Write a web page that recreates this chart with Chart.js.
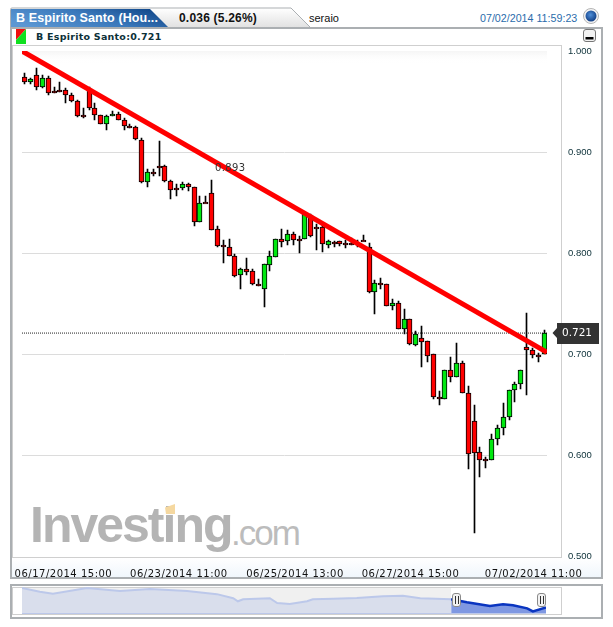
<!DOCTYPE html>
<html>
<head>
<meta charset="utf-8">
<title>B Espirito Santo</title>
<script src="https://cdn.jsdelivr.net/npm/chart.js@4/dist/chart.umd.min.js"></script>
<style>
html, body { margin: 0; padding: 0; background: #fff; overflow: hidden; }
#page { position: relative; width: 613px; height: 627px; font-family: "Liberation Sans", sans-serif; }
#page > * { position: absolute; }
.panel { border: 2px solid #abafb2; box-sizing: border-box; background: #fff; }
.frame { border: 1px solid #cfcfcf; box-sizing: border-box; }
.txt { white-space: nowrap; line-height: 1; }
.grip { width: 9px; height: 14px; border: 1px solid #8a8a8a; border-radius: 3px; background: #f2f2f2; box-sizing: border-box; }
.grip:after { content: ""; position: absolute; left: 2px; top: 2px; width: 1px; height: 8px; border-left: 1px solid #333; border-right: 1px solid #333; padding-left: 1px; }
</style>
</head>
<body>
<div id="page">
  <div class="panel" style="left:10px;top:27px;width:593px;height:552px"></div>
  <div style="left:12px;top:558px;width:589px;height:19px;background:linear-gradient(#fff,#f0f6fc)"></div>
  <div class="frame" style="left:12px;top:45px;width:550px;height:513px;background:#fff"></div>

  <svg style="left:0;top:0" width="613" height="46">
    <defs>
      <linearGradient id="tabBlue" x1="0" y1="0.7" x2="1" y2="0.3"><stop offset="0" stop-color="#5b97d3"/><stop offset="0.55" stop-color="#3a78bb"/><stop offset="1" stop-color="#134a8c"/></linearGradient>
      <linearGradient id="tabGray" x1="0" y1="0" x2="0" y2="1"><stop offset="0" stop-color="#ffffff"/><stop offset="1" stop-color="#e2e2e2"/></linearGradient>
      <radialGradient id="ball" cx="0.45" cy="0.4" r="0.6"><stop offset="0" stop-color="#4f8fd8"/><stop offset="1" stop-color="#123f86"/></radialGradient>
    </defs>
    <path d="M10.5 27 V9.5 Q10.5 8 12 8 H291 L310 27" fill="url(#tabGray)" stroke="#abafb2" stroke-width="1"/>
    <path d="M11 27 V9 H150 L168 27 Z" fill="url(#tabBlue)"/>
    <circle cx="591" cy="16" r="7.5" fill="#f4f4f4" stroke="#b5b5b5"/>
    <circle cx="591" cy="16" r="5.5" fill="url(#ball)"/>
    <rect x="583.5" y="29.5" width="12" height="12" rx="2.5" fill="#f2f2f2" stroke="#777"/>
    <rect x="585.5" y="37" width="8" height="2.5" fill="#000"/>
    <path d="M16 29 H26 L16 40 Z" fill="#f01010"/>
    <path d="M26 29 V44 H16 V40 Z" fill="#10e020"/>
  </svg>

  <div class="txt" style="left:16px;top:11px;font:bold 12.5px 'Liberation Sans';letter-spacing:.1px;color:#fff">B Espirito Santo (Hou...</div>
  <div class="txt" style="left:179px;top:11px;font:bold 12px 'Liberation Sans';letter-spacing:.2px;color:#111">0.036 (5.26%)</div>
  <div class="txt" style="left:309px;top:12px;font:11px 'Liberation Sans';color:#111">seraio</div>
  <div class="txt" style="left:480px;top:12px;font:10.7px 'Liberation Sans';color:#2a6cab">07/02/2014 11:59:23</div>
  <div class="txt" style="left:36px;top:31px;font:bold 9.5px 'DejaVu Sans';letter-spacing:.25px;color:#0c3038">B Espirito Santo:0.721</div>

  <div class="txt" style="left:30px;top:496px;font:bold 50px 'Liberation Sans';letter-spacing:-2px;color:#b4b4b4">Investing</div>
  <div style="left:165px;top:504px;width:10px;height:10px;background:#f5d8a0;clip-path:polygon(0 35%,100% 0,100% 100%,10% 100%)"></div>
  <div class="txt" style="left:231px;top:513px;font:35px 'Liberation Sans';letter-spacing:-2px;color:#bcbcbc">.com</div>

  <canvas id="grafico" width="613" height="627" style="left:0;top:0"></canvas>

  <div class="panel" style="left:10px;top:584px;width:593px;height:35px"></div>
  <div class="frame" style="left:12px;top:587px;width:550px;height:28px"></div>
  <div style="left:22px;top:588px;width:429px;height:26px;background:#f0f0f0"></div>
  <canvas id="navegador" width="613" height="27" style="left:0;top:587px"></canvas>
  <div style="left:22px;top:613px;width:524px;height:1px;background:#bcc8ea"></div>
  <div class="grip" style="left:452px;top:593px"></div>
  <div class="grip" style="left:537px;top:593px"></div>
</div>

<script>
// Datos de las velas, en orden de izquierda a derecha
const highs = [
  .978, .973, .983, .976, .975, .964, .969, .963, .958, .952,
  .944, .964, .949, .937, .937, .941, .940, .934, .928, .926,
  .914, .883, .883, .911, .887, .872, .868, .870, .869, .865,
  .857, .857, .872, .827, .813, .814, .799, .785, .795, .784,
  .774, .789, .802, .814, .824, .823, .821, .817, .839, .839,
  .829, .828, .813, .812, .812, .813, .815, .813, .818, .810,
  .773, .775, .770, .755, .753, .745, .735, .723, .728, .713,
  .700, .664, .684, .697, .711, .693, .669, .650, .608, .598,
  .621, .630, .652, .665, .673, .684, .741, .706, .701, .724
];
const opens = [
  .974, .969, .976, .964, .973, .960, .961, .961, .956, .951,
  .937, .961, .944, .937, .928, .936, .938, .932, .926, .925,
  .912, .870, .880, .886, .886, .871, .864, .864, .868, .865,
  .831, .851, .860, .824, .808, .806, .797, .778, .784, .782,
  .770, .765, .788, .796, .814, .812, .819, .814, .814, .838,
  .826, .826, .808, .811, .812, .810, .810, .810, .813, .806,
  .762, .771, .770, .748, .751, .725, .735, .709, .716, .713,
  .700, .658, .656, .684, .678, .691, .662, .634, .603, .596,
  .595, .616, .627, .638, .665, .671, .707, .704, .699, .700
];
const closes = [
  .969, .972, .964, .973, .958, .959, .960, .956, .951, .936,
  .936, .944, .937, .928, .936, .938, .932, .926, .925, .913,
  .870, .880, .879, .885, .871, .863, .863, .868, .865, .831,
  .850, .850, .823, .807, .806, .797, .777, .784, .781, .770,
  .769, .789, .797, .814, .811, .819, .813, .813, .839, .817,
  .825, .809, .812, .810, .809, .809, .809, .809, .812, .762,
  .771, .770, .748, .751, .725, .735, .710, .720, .712, .698,
  .658, .656, .684, .678, .691, .662, .601, .602, .595, .595,
  .616, .627, .638, .665, .671, .684, .704, .699, .698, .721
];
const lows = [
  .967, .967, .961, .963, .956, .958, .959, .949, .950, .935,
  .934, .942, .932, .928, .922, .936, .932, .922, .924, .912,
  .869, .865, .876, .876, .870, .854, .857, .863, .862, .827,
  .831, .850, .823, .806, .790, .797, .776, .765, .778, .769,
  .768, .747, .782, .796, .806, .808, .808, .800, .814, .816,
  .803, .801, .805, .806, .807, .805, .808, .806, .812, .761,
  .740, .765, .748, .744, .725, .720, .709, .708, .687, .692,
  .656, .650, .656, .673, .678, .662, .587, .523, .579, .588,
  .595, .610, .620, .635, .653, .666, .660, .696, .692, .700
];

const ultimoPrecio = 0.721;
const precioMarcado = 0.893;
// Linea de tendencia: vela inicial/final y su precio
const tendenciaVelas = [-0.5, 89.5];
const tendenciaPrecios = [1.0, 0.702];

// Eje X
const fechas = ['06/17/2014 15:00', '06/23/2014 11:00', '06/25/2014 13:00', '06/27/2014 15:00', '07/02/2014 11:00'];
const fechasVela = [6.6, 26.4, 46.3, 66.1, 87.2];

// Navegador inferior: posicion en % del ancho y nivel del precio
const navPos = [0, 3.4, 5.9, 12.4, 18.7, 24.4, 31.5, 37.2, 40.3, 41.2, 42.2, 47.3, 48.7, 51.1, 54.4, 55.5, 59.4, 63.9, 68.9, 72.7, 76, 81.9, 84.9, 89.3, 91.8, 93.7, 96.4, 97.5, 100];
const navVal = [25.5, 21.8, 19.8, 25.5, 22.5, 24.5, 22.5, 19.5, 15.5, 12.5, 14.5, 15.5, 10.8, 9.8, 12.5, 14.5, 15, 15.8, 17.5, 17.8, 15.5, 14.5, 11.5, 7.8, 9.5, 8.5, 5.5, 2.5, 6.5];
const navInicio = 81.9;

const rojo = '#ff0000';
const verde = '#00e810';

const velas = highs.map((h, i) => i);

const extras = {
  id: 'extras',
  // Ajusta las velas al pixel para que salgan nitidas; el cuerpo nunca baja de 2px
  afterDatasetsUpdate(chart) {
    [1, 2].forEach(n => {
      chart.getDatasetMeta(n).data.forEach(bar => {
        bar.x = Math.floor(bar.x) + 0.5;
        let top = Math.round(Math.min(bar.y, bar.base));
        let bottom = Math.round(Math.max(bar.y, bar.base));
        if (bottom - top < 2) bottom = top + 2;
        bar.y = top;
        bar.base = bottom;
      });
    });
  },
  // Franja gris arriba de la zona de precios
  beforeDatasetsDraw(chart) {
    const { ctx, chartArea: a } = chart;
    const g = ctx.createLinearGradient(0, a.top, 0, a.top + 12);
    g.addColorStop(0, '#f5f5f5');
    g.addColorStop(1, 'rgba(255,255,255,0)');
    ctx.save();
    ctx.fillStyle = g;
    ctx.fillRect(a.left, a.top, a.right - a.left, 12);
    ctx.restore();
  },
  // Etiqueta 0.893, por encima de la linea roja
  afterDatasetsDraw(chart) {
    const { ctx, scales: { x, y } } = chart;
    ctx.save();
    ctx.font = '10px "DejaVu Sans"';
    ctx.letterSpacing = '0.4px';
    ctx.fillStyle = '#333';
    ctx.textAlign = 'center';
    ctx.textBaseline = 'middle';
    ctx.fillText(precioMarcado.toFixed(3), x.getPixelForValue(35.2), y.getPixelForValue(0.884));
    ctx.restore();
  },
  // Marca del ultimo precio
  afterDraw(chart) {
    const { ctx, scales: { y } } = chart;
    const py = y.getPixelForValue(ultimoPrecio);
    ctx.save();
    ctx.fillStyle = '#333';
    ctx.beginPath();
    ctx.moveTo(552.5, py);
    ctx.lineTo(557, py - 5);
    ctx.lineTo(557, py - 10);
    ctx.lineTo(599, py - 10);
    ctx.lineTo(599, py + 11);
    ctx.lineTo(557, py + 11);
    ctx.lineTo(557, py + 5);
    ctx.closePath();
    ctx.fill();
    ctx.font = '10.5px "DejaVu Sans"';
    ctx.fillStyle = '#fff';
    ctx.textAlign = 'center';
    ctx.textBaseline = 'middle';
    ctx.fillText(ultimoPrecio.toFixed(3), 577, py + 0.5);
    ctx.restore();
  }
};

new Chart(document.getElementById('grafico'), {
  type: 'bar',
  data: {
    datasets: [
      {
        type: 'line',
        data: tendenciaVelas.map((v, i) => ({ x: v, y: tendenciaPrecios[i] })),
        borderColor: rojo,
        borderWidth: 5,
        pointRadius: 0,
        borderCapStyle: 'butt',
        order: 0
      },
      {
        data: velas.map(i => ({ x: i, y: [opens[i], closes[i]] })),
        backgroundColor: velas.map(i => closes[i] >= opens[i] ? verde : rojo),
        borderColor: '#000',
        borderWidth: 1,
        borderSkipped: false,
        barThickness: 5,
        grouped: false,
        order: 1
      },
      {
        data: velas.map(i => ({ x: i, y: [lows[i], highs[i]] })),
        backgroundColor: '#000',
        barThickness: 1,
        grouped: false,
        order: 2
      },
      {
        type: 'line',
        data: tendenciaVelas.map(v => ({ x: v, y: ultimoPrecio })),
        borderColor: '#222',
        borderWidth: 1,
        borderDash: [1, 1],
        pointRadius: 0,
        order: 3
      }
    ]
  },
  options: {
    responsive: false,
    animation: false,
    layout: { padding: { left: 22, top: 51 } },
    plugins: { legend: { display: false }, tooltip: { enabled: false } },
    scales: {
      x: {
        type: 'linear',
        offset: false,
        min: -0.5,
        max: 89.5,
        grid: { display: false },
        border: { display: false },
        afterBuildTicks(axis) {
          axis.ticks = fechasVela.map(v => ({ value: v }));
        },
        afterFit(axis) {
          axis.height = 70.5;
          // las fechas van algo espaciadas, solo en este eje
          if (!axis.espaciado) {
            const dibujar = axis.drawLabels;
            axis.drawLabels = function (area) {
              axis.ctx.save();
              axis.ctx.letterSpacing = '0.5px';
              dibujar.call(axis, area);
              axis.ctx.restore();
            };
            axis.espaciado = true;
          }
        },
        ticks: {
          autoSkip: false,
          maxRotation: 0,
          padding: 4,
          color: '#111',
          font: { family: 'DejaVu Sans', size: 10 },
          callback: (v) => fechas[fechasVela.indexOf(v)]
        }
      },
      y: {
        position: 'right',
        min: 0.5,
        max: 1.0,
        grid: {
          drawTicks: false,
          color: c => (c.tick.value > 0.55 && c.tick.value < 0.95) ? '#dcdcdc' : 'transparent'
        },
        border: { display: false },
        afterFit(axis) { axis.width = 66; },
        ticks: {
          stepSize: 0.1,
          padding: 21,
          color: '#0c3038',
          font: { family: 'Liberation Sans', size: 9.5 },
          callback: v => v.toFixed(3)
        }
      }
    }
  },
  plugins: [extras]
});

// Navegador: zona no seleccionada y zona seleccionada
const puntosNav = navPos.map((p, i) => ({ x: p, y: navVal[i] }));
new Chart(document.getElementById('navegador'), {
  type: 'line',
  data: {
    datasets: [
      {
        data: puntosNav.filter(p => p.x >= navInicio),
        borderColor: '#0a35c0',
        backgroundColor: '#7f98e2',
        borderWidth: 2.5,
        pointRadius: 0,
        fill: 'origin'
      },
      {
        data: puntosNav.filter(p => p.x <= navInicio),
        borderColor: '#bcc8ea',
        backgroundColor: '#d9deec',
        borderWidth: 2,
        pointRadius: 0,
        fill: 'origin'
      }
    ]
  },
  options: {
    responsive: false,
    animation: false,
    layout: { padding: { left: 22, right: 67 } },
    plugins: { legend: { display: false }, tooltip: { enabled: false } },
    scales: {
      x: { type: 'linear', min: 0, max: 100, display: false },
      y: { min: 0, max: 26.5, display: false }
    }
  }
});
</script>
</body>
</html>
